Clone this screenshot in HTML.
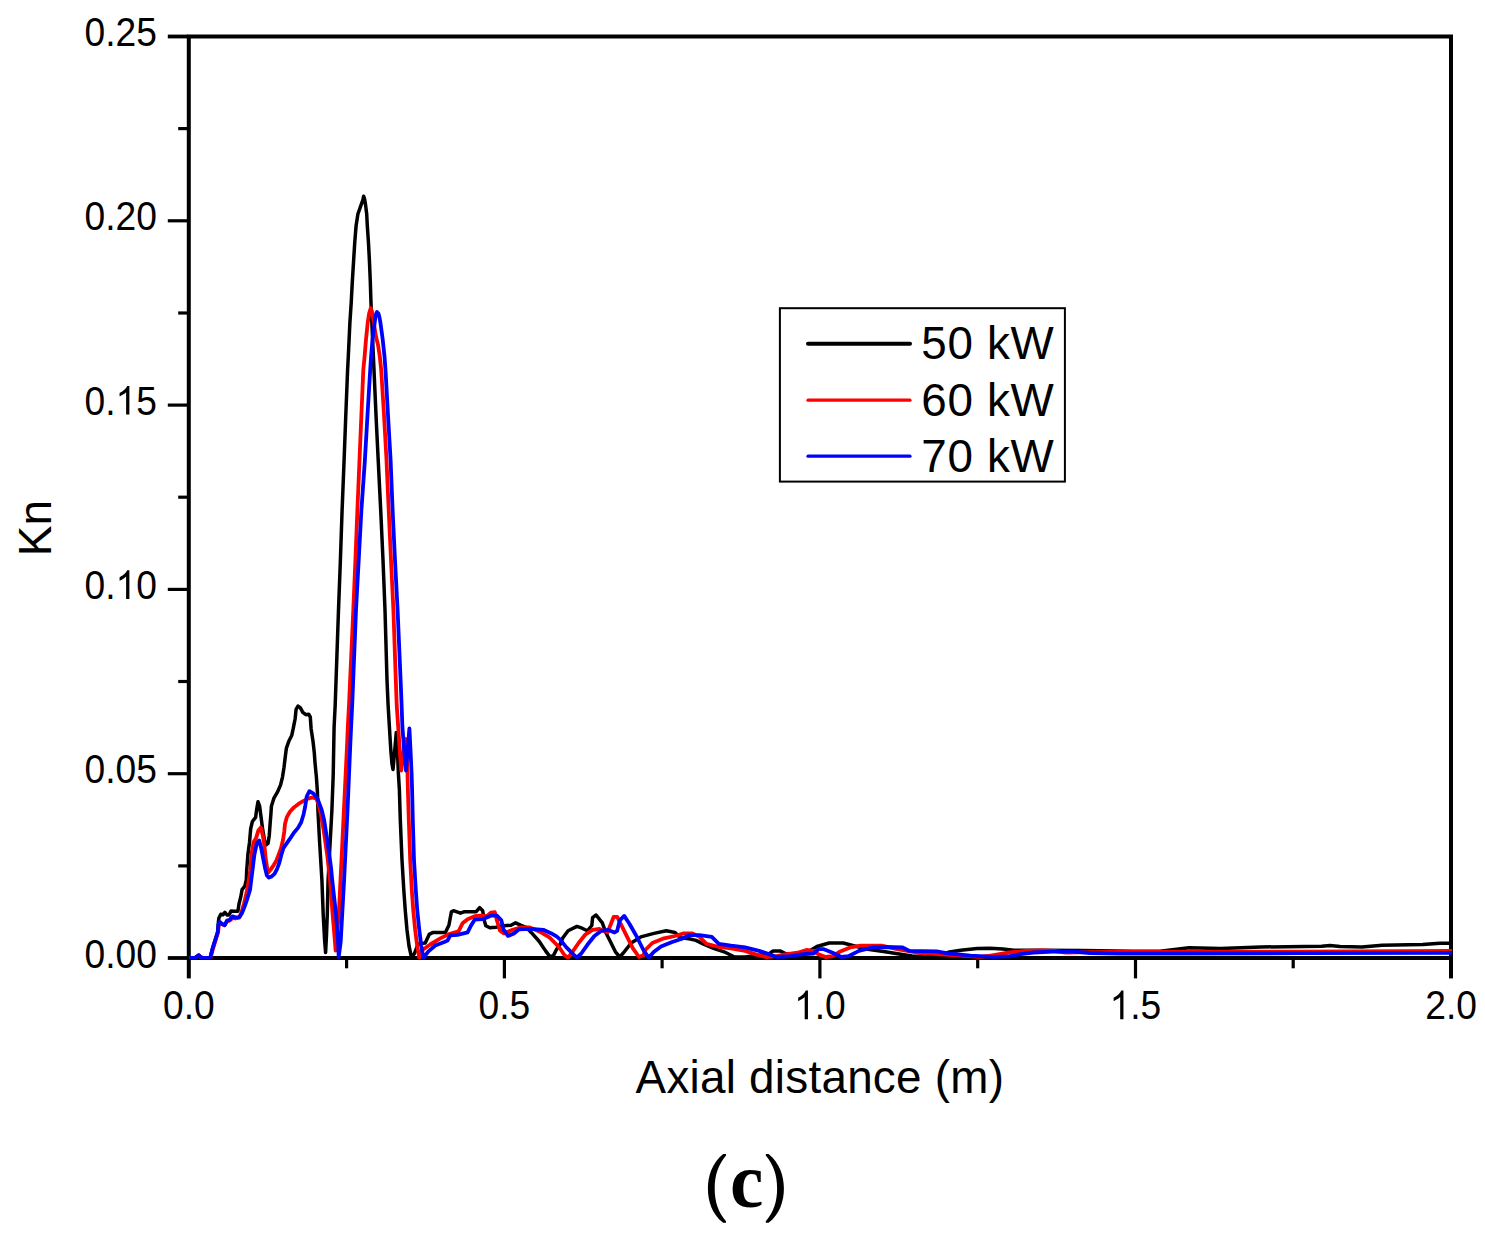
<!DOCTYPE html>
<html><head><meta charset="utf-8"><title>Kn vs axial distance</title>
<style>html,body{margin:0;padding:0;background:#fff;}svg{display:block;}text{font-family:"Liberation Sans",sans-serif;fill:#000;}</style></head>
<body><svg width="1485" height="1239" viewBox="0 0 1485 1239">
<defs><clipPath id="pc"><rect x="189.0" y="36.5" width="1263.0" height="922.5"/></clipPath></defs>
<rect width="1485" height="1239" fill="#fff"/>
<g stroke="#000" stroke-width="4.0" fill="none">
<rect x="188.8" y="36.5" width="1262.2" height="921.5"/>
<g stroke-width="3.2">
<line x1="188.8" y1="959.0" x2="188.8" y2="978.4" stroke-width="4"/>
<line x1="504.4" y1="959.0" x2="504.4" y2="978.4"/>
<line x1="819.9" y1="959.0" x2="819.9" y2="978.4"/>
<line x1="1135.5" y1="959.0" x2="1135.5" y2="978.4"/>
<line x1="1451.0" y1="959.0" x2="1451.0" y2="978.4" stroke-width="4"/>
<line x1="346.6" y1="959.0" x2="346.6" y2="968.3"/>
<line x1="662.1" y1="959.0" x2="662.1" y2="968.3"/>
<line x1="977.7" y1="959.0" x2="977.7" y2="968.3"/>
<line x1="1293.2" y1="959.0" x2="1293.2" y2="968.3"/>
<line x1="187.8" y1="958.0" x2="167.8" y2="958.0" stroke-width="3.8"/>
<line x1="187.8" y1="773.7" x2="167.8" y2="773.7"/>
<line x1="187.8" y1="589.4" x2="167.8" y2="589.4"/>
<line x1="187.8" y1="405.1" x2="167.8" y2="405.1"/>
<line x1="187.8" y1="220.8" x2="167.8" y2="220.8"/>
<line x1="187.8" y1="36.5" x2="167.8" y2="36.5" stroke-width="3.8"/>
<line x1="187.8" y1="865.9" x2="178.2" y2="865.9"/>
<line x1="187.8" y1="681.5" x2="178.2" y2="681.5"/>
<line x1="187.8" y1="497.2" x2="178.2" y2="497.2"/>
<line x1="187.8" y1="313.0" x2="178.2" y2="313.0"/>
<line x1="187.8" y1="128.6" x2="178.2" y2="128.6"/>
</g></g>
<g fill="none" stroke-linejoin="round" stroke-linecap="butt" clip-path="url(#pc)">
<polyline stroke="#000" stroke-width="3.5" points="189.4,958.0 195.0,958.0 197.0,956.5 198.7,955.2 200.5,957.0 203.0,958.0 210.2,958.0 210.8,955.5 212.5,948.6 215.3,939.7 217.7,932.2 218.4,922.0 218.9,918.0 220.8,914.3 222.9,914.8 224.9,912.3 227.0,915.0 229.0,915.0 231.1,910.9 233.8,911.2 237.9,911.2 239.0,904.0 240.7,897.2 242.1,889.6 244.8,886.2 246.3,880.0 246.7,870.7 247.9,854.6 249.5,842.5 250.7,828.7 252.4,821.5 255.6,817.4 256.8,808.6 258.0,801.7 259.6,806.1 261.2,818.2 262.8,830.4 264.5,840.0 266.1,844.9 268.1,843.3 269.3,835.2 270.1,823.9 270.9,814.2 271.4,806.2 273.8,798.4 277.7,791.6 280.6,784.9 282.5,777.1 284.0,767.4 285.4,755.8 286.4,748.1 288.8,741.3 291.7,735.5 293.2,728.7 295.1,719.0 296.1,709.4 298.0,706.0 300.4,707.9 302.8,712.3 305.8,714.7 308.7,714.2 310.3,717.1 311.1,728.7 313.0,741.3 314.3,752.9 315.0,762.6 316.4,777.1 317.4,791.6 317.9,810.0 319.6,842.0 321.9,880.0 323.2,914.3 324.6,940.0 325.6,952.5 326.5,935.0 327.3,914.0 328.1,880.0 329.3,858.0 331.9,810.0 333.2,775.2 334.1,727.0 335.2,705.0 338.5,610.0 340.4,560.0 342.1,510.0 344.1,460.0 345.8,415.0 347.6,370.0 348.3,356.5 349.1,339.5 349.9,322.6 351.2,303.0 352.3,281.8 353.5,262.4 354.7,243.1 356.1,225.7 357.9,214.0 361.3,204.4 363.0,199.5 363.6,196.2 364.6,199.0 365.5,204.4 366.7,214.0 367.3,225.7 368.5,243.1 369.5,262.4 370.3,281.8 371.0,303.0 372.4,335.0 374.0,370.0 376.0,415.0 378.2,460.0 380.7,510.0 383.0,560.0 385.0,610.0 387.0,680.0 388.1,705.0 389.4,727.0 390.8,750.0 392.0,764.0 393.0,769.5 394.6,752.0 396.3,732.5 397.4,750.0 398.4,773.6 399.4,790.0 400.3,820.0 402.0,860.0 403.8,890.0 405.3,910.8 407.0,930.0 409.0,946.0 411.4,956.8 414.4,953.7 418.0,944.3 421.1,943.5 425.2,943.0 429.2,934.4 433.2,932.4 445.4,932.4 448.9,925.3 451.4,911.7 453.4,910.7 460.5,913.2 464.5,911.7 476.2,911.7 479.7,907.6 482.7,910.7 484.2,920.3 485.8,925.8 489.8,927.8 495.9,927.3 503.9,925.8 511.0,925.3 515.6,922.8 521.1,925.3 526.2,927.3 531.2,932.4 539.3,941.5 545.4,950.6 549.9,956.6 553.4,955.6 556.5,949.5 560.0,944.5 562.9,937.8 568.1,930.8 576.9,926.4 582.1,928.2 587.4,930.8 591.8,925.5 592.6,917.6 596.1,915.0 602.3,922.9 605.8,932.5 610.2,941.3 615.4,951.8 619.8,957.0 624.2,951.8 631.2,943.0 640.8,936.9 654.0,933.4 666.3,930.8 675.0,932.5 680.3,937.8 689.0,938.7 696.0,940.4 703.0,943.9 713.6,948.3 724.1,951.8 734.6,957.0 745.1,957.0 759.1,955.3 769.6,953.5 773.1,950.9 780.1,950.9 785.4,953.5 797.6,955.3 808.1,951.8 816.9,946.5 829.1,943.0 843.2,943.0 853.7,945.7 867.7,949.2 885.2,951.8 896.0,953.4 912.0,956.0 925.0,957.0 940.0,955.5 949.5,952.0 960.8,950.2 977.0,948.6 990.0,948.3 1002.8,949.1 1014.0,950.2 1041.6,950.2 1082.0,950.5 1132.5,951.3 1160.0,951.2 1189.0,947.8 1220.6,948.6 1261.0,947.0 1321.6,946.2 1330.0,945.6 1340.0,946.6 1362.0,947.0 1382.2,945.2 1422.6,944.6 1440.0,943.2 1451.0,943.2"/>
<polyline stroke="#f00" stroke-width="3.8" points="189.4,958.0 195.0,958.0 197.0,956.5 198.7,955.2 200.5,957.0 203.0,958.0 210.4,958.0 211.2,955.5 213.0,948.6 215.8,939.7 218.1,932.2 218.8,925.5 220.2,923.0 222.4,924.5 224.6,925.0 227.0,921.5 229.7,920.5 232.5,918.0 235.2,918.5 239.3,917.6 241.6,912.0 244.0,903.5 247.2,890.0 250.2,870.7 251.5,854.6 253.6,842.0 256.0,838.4 258.4,830.4 260.8,827.5 262.8,835.2 264.5,846.5 265.7,858.6 267.3,869.1 268.5,872.3 270.5,869.9 273.7,865.1 276.2,861.0 278.6,854.6 281.0,848.1 283.0,840.0 284.2,832.0 285.0,823.9 286.7,817.4 289.9,811.8 293.9,807.4 298.8,803.7 303.6,800.9 308.0,798.6 312.5,797.4 316.5,798.8 319.0,806.0 320.8,814.0 323.6,829.9 327.3,855.6 330.0,880.0 332.6,914.0 335.0,942.0 335.6,950.5 337.0,935.0 338.8,914.3 340.5,880.0 344.0,808.3 347.2,742.1 347.8,727.0 349.0,705.0 353.3,610.0 355.4,560.0 357.4,510.0 359.5,460.0 361.4,415.0 363.3,370.0 364.6,356.5 366.0,339.5 367.7,322.6 369.2,313.0 370.8,308.0 372.4,313.0 374.0,324.0 375.5,334.0 376.7,339.5 378.1,345.2 379.8,356.5 381.2,370.0 384.0,415.0 386.5,460.0 388.7,510.0 391.0,560.0 393.4,610.0 395.8,680.0 396.7,705.0 398.2,727.0 399.2,742.0 401.2,770.5 403.3,754.0 405.9,739.0 406.7,754.0 407.5,773.6 407.9,790.0 408.8,820.0 410.2,860.0 411.8,890.0 413.3,910.8 415.2,930.0 417.2,946.0 419.3,957.5 423.1,949.5 430.2,944.5 440.3,938.4 448.4,934.4 458.5,931.4 460.5,927.3 462.5,923.3 467.6,919.2 474.6,916.2 480.7,915.7 486.8,916.2 490.8,912.7 494.8,912.2 496.9,920.3 499.9,930.4 503.9,933.4 511.0,930.4 521.1,927.3 529.2,927.3 539.3,931.4 549.4,937.4 556.5,944.5 560.0,948.5 564.6,955.3 568.1,957.6 572.5,951.8 578.6,943.0 585.6,934.3 592.6,929.9 599.6,929.0 607.5,932.5 611.0,923.8 613.7,916.8 617.2,916.8 620.7,923.8 625.9,934.3 632.9,948.3 639.0,957.0 643.4,955.3 645.3,950.0 652.3,943.0 662.8,938.7 675.0,936.0 683.8,933.4 692.5,933.4 699.5,936.9 706.5,943.9 717.1,946.5 731.1,948.3 745.1,950.9 755.6,954.4 766.1,957.0 776.6,956.2 785.4,954.4 797.6,952.7 806.4,950.0 813.4,950.9 818.6,954.4 825.6,957.0 832.6,956.2 839.6,951.8 850.2,947.4 860.7,945.7 881.7,945.7 886.0,946.5 896.0,949.0 920.0,953.1 944.6,954.6 964.0,955.9 980.0,956.8 988.0,956.0 996.4,954.6 1009.3,952.5 1025.5,951.0 1041.6,950.4 1054.5,951.0 1065.9,952.6 1090.0,952.1 1120.0,951.8 1180.0,951.8 1300.0,951.6 1453.0,950.8"/>
<polyline stroke="#00f" stroke-width="3.8" points="189.4,958.0 195.0,958.0 197.0,956.5 198.7,955.2 200.5,957.0 203.0,958.0 210.2,958.0 210.8,955.5 212.5,948.6 215.3,939.7 217.7,932.2 218.4,924.6 219.8,921.9 222.2,923.9 224.6,925.3 227.0,920.5 229.7,919.8 232.5,916.4 235.2,917.4 239.3,917.1 242.1,912.9 244.8,906.1 247.6,897.8 250.0,890.0 252.4,870.7 254.4,854.6 256.8,843.3 259.2,840.4 261.2,848.1 263.2,858.6 265.3,869.1 266.9,875.5 268.9,877.6 271.7,876.4 274.5,873.9 277.0,869.1 279.4,862.6 281.4,854.6 283.4,848.1 286.7,843.3 290.7,837.6 293.9,832.8 298.0,827.9 301.2,822.3 303.6,814.2 305.2,806.5 306.7,796.5 309.4,791.2 313.5,793.6 317.4,798.4 320.3,806.2 321.7,810.0 324.2,820.5 327.8,843.9 331.0,867.4 332.2,880.0 336.0,914.3 338.1,941.7 338.7,957.0 340.7,941.7 342.2,914.3 344.1,880.0 347.6,808.3 350.4,742.0 351.1,727.0 352.2,705.0 356.0,610.0 358.7,560.0 361.4,510.0 364.9,460.0 367.5,415.0 370.2,370.0 371.1,356.5 372.5,339.5 374.7,322.6 375.8,315.0 377.0,312.0 378.4,313.5 379.4,317.0 380.4,322.6 382.7,339.5 384.5,356.5 385.5,370.0 388.0,415.0 390.6,460.0 392.6,510.0 395.0,560.0 397.6,610.0 400.6,680.0 401.6,705.0 402.4,727.0 404.2,750.0 406.0,770.5 407.6,750.2 409.4,728.5 410.5,750.2 411.6,773.6 412.1,790.0 412.8,820.0 414.0,860.0 415.8,890.0 417.3,910.8 419.3,930.0 421.3,946.0 423.4,958.0 428.2,951.6 435.3,945.5 444.3,942.0 447.5,940.5 450.4,935.4 457.5,934.9 467.6,932.4 470.6,926.3 474.6,919.7 482.7,919.2 490.8,915.7 496.9,915.7 501.4,920.3 503.4,929.3 508.0,935.9 514.0,933.4 519.1,929.3 531.2,928.8 543.3,929.8 551.4,933.4 556.5,936.4 560.0,939.4 566.4,947.4 573.4,954.4 576.9,957.6 581.3,953.5 587.4,944.8 594.4,936.0 601.4,930.8 608.4,929.9 614.5,932.5 617.2,930.8 619.8,920.3 624.2,915.9 629.4,923.8 636.4,936.0 643.4,950.0 648.7,957.6 654.0,951.8 661.0,946.5 671.5,942.2 682.0,938.7 689.0,935.2 699.5,935.2 711.8,936.9 718.8,943.9 731.1,945.7 745.1,947.4 759.1,950.9 769.6,954.4 776.6,957.0 790.6,956.2 801.1,954.4 813.4,953.5 818.6,949.2 823.9,949.2 832.6,952.7 841.4,957.0 848.4,956.2 858.9,950.9 872.9,947.4 885.2,947.0 902.6,947.5 909.0,950.8 936.6,951.3 947.9,953.4 970.5,955.7 993.0,956.8 1009.3,956.3 1020.6,954.1 1033.5,952.5 1057.8,951.4 1074.0,951.7 1090.0,953.0 1120.0,953.7 1180.0,953.5 1300.0,953.2 1453.0,952.8"/>
</g>
<g font-size="40.0" fill="#000">
<g transform="translate(163.0,1019.3) scale(0.930,1)"><text x="0.00" y="0">0.0</text></g>
<g transform="translate(478.5,1019.3) scale(0.930,1)"><text x="0.00" y="0">0.5</text></g>
<g transform="translate(794.1,1019.3) scale(0.930,1)"><path transform="translate(0.00,0) scale(0.01953,-0.01953)" d="M763 0H583V1147Q518 1085 412.5 1023T223 930V1104Q373 1175 485 1275T644 1470H763Z"/><text x="22.24" y="0">.0</text></g>
<g transform="translate(1109.6,1019.3) scale(0.930,1)"><path transform="translate(0.00,0) scale(0.01953,-0.01953)" d="M763 0H583V1147Q518 1085 412.5 1023T223 930V1104Q373 1175 485 1275T644 1470H763Z"/><text x="22.24" y="0">.5</text></g>
<g transform="translate(1425.2,1019.3) scale(0.930,1)"><text x="0.00" y="0">2.0</text></g>
<g transform="translate(84.5,967.5) scale(0.930,1)"><text x="0.00" y="0">0.00</text></g>
<g transform="translate(84.5,783.2) scale(0.930,1)"><text x="0.00" y="0">0.05</text></g>
<g transform="translate(84.5,598.9) scale(0.930,1)"><text x="0.00" y="0">0.</text><path transform="translate(33.36,0) scale(0.01953,-0.01953)" d="M763 0H583V1147Q518 1085 412.5 1023T223 930V1104Q373 1175 485 1275T644 1470H763Z"/><text x="55.60" y="0">0</text></g>
<g transform="translate(84.5,414.6) scale(0.930,1)"><text x="0.00" y="0">0.</text><path transform="translate(33.36,0) scale(0.01953,-0.01953)" d="M763 0H583V1147Q518 1085 412.5 1023T223 930V1104Q373 1175 485 1275T644 1470H763Z"/><text x="55.60" y="0">5</text></g>
<g transform="translate(84.5,230.3) scale(0.930,1)"><text x="0.00" y="0">0.20</text></g>
<g transform="translate(84.5,46.0) scale(0.930,1)"><text x="0.00" y="0">0.25</text></g>
</g>
<text x="635.6" y="1092.8" font-size="45.8" textLength="368.3" lengthAdjust="spacing">Axial distance (m)</text>
<text transform="translate(51.3,528) rotate(-90)" font-size="46" text-anchor="middle">Kn</text>
<rect x="779.9" y="308.2" width="285" height="173.4" fill="#fff" stroke="#000" stroke-width="2"/>
<g stroke-width="3.2" stroke-linecap="round"><line x1="808" y1="343.8" x2="910" y2="343.8" stroke="#000" stroke-width="4"/><line x1="808" y1="400.2" x2="910" y2="400.2" stroke="#f00"/><line x1="808" y1="456.2" x2="910" y2="456.2" stroke="#00f"/></g>
<g font-size="45.8"><text x="921.3" y="359.2" textLength="132.4" lengthAdjust="spacing">50 kW</text><text x="921.3" y="415.6" textLength="132.4" lengthAdjust="spacing">60 kW</text><text x="921.3" y="471.6" textLength="132.4" lengthAdjust="spacing">70 kW</text></g>
<path d="M726.0,1153.9 L723.2,1153.9 C712.0,1163.0 707.9,1176.0 707.9,1188.4 C707.9,1201.0 712.0,1214.0 723.2,1222.8 L726.0,1222.8 L726.0,1221.2 C718.3,1212.0 714.7,1202.0 714.7,1188.4 C714.7,1175.0 718.3,1165.0 726.0,1155.5 Z" fill="#000"/><path d="M765.8,1153.9 L768.6,1153.9 C779.8,1163.0 783.9,1176.0 783.9,1188.4 C783.9,1201.0 779.8,1214.0 768.6,1222.8 L765.8,1222.8 L765.8,1221.2 C773.5,1212.0 777.1,1202.0 777.1,1188.4 C777.1,1175.0 773.5,1165.0 765.8,1155.5 Z" fill="#000"/>
<text x="730" y="1207" font-size="79" font-weight="bold" textLength="33.4" lengthAdjust="spacingAndGlyphs" style="font-family:'Liberation Serif',serif">c</text>
</svg></body></html>
